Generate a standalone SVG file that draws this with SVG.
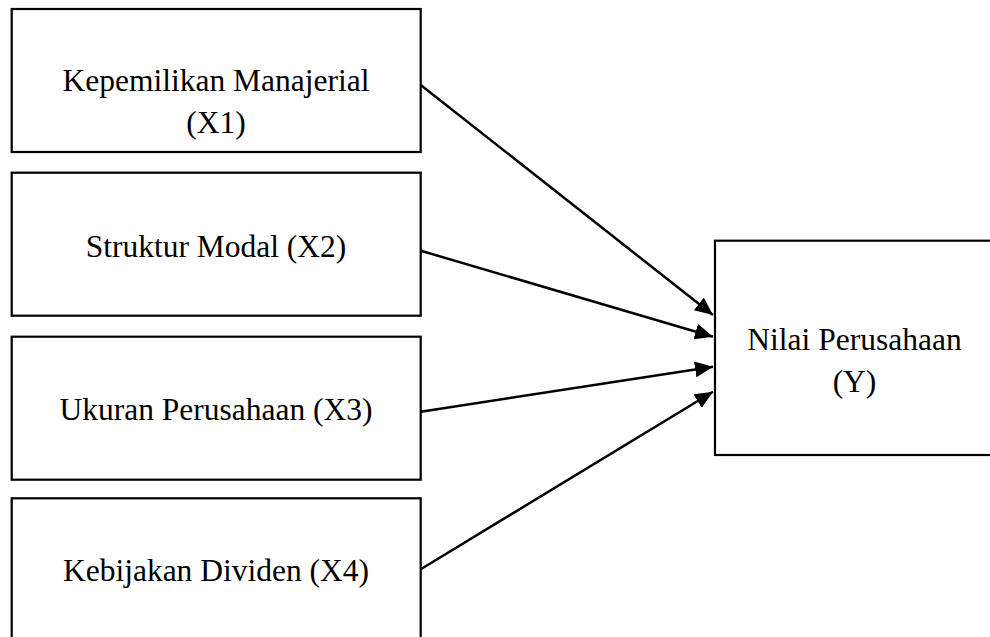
<svg xmlns="http://www.w3.org/2000/svg" width="990" height="637" viewBox="0 0 990 637">
<defs>
<style>
.box{fill:#fff;stroke:#000;stroke-width:2.2}
.lbl{font-family:"Liberation Serif","Times New Roman",serif;font-size:31.5px;fill:#000;text-anchor:middle}
.conn{stroke:#000;stroke-width:2.5;fill:none}
</style>
<marker id="arr" markerUnits="userSpaceOnUse" markerWidth="19" markerHeight="16" refX="18" refY="8" orient="auto">
<path d="M0,0 L18,8 L0,16 Z" fill="#000"/>
</marker>
</defs>
<rect width="990" height="637" fill="#fff"/>
<g id="x1">
<rect class="box" x="11.7" y="9" width="409" height="143"/>
<text class="lbl" x="216" y="90.7">Kepemilikan Manajerial</text>
<text class="lbl" x="216" y="133">(X1)</text>
</g>
<g id="x2">
<rect class="box" x="11.7" y="172.7" width="409" height="143"/>
<text class="lbl" x="216" y="256.7">Struktur Modal (X2)</text>
</g>
<g id="x3">
<rect class="box" x="11.7" y="336.7" width="409" height="143"/>
<text class="lbl" x="216" y="420">Ukuran Perusahaan (X3)</text>
</g>
<g id="x4">
<rect class="box" x="11.7" y="498.3" width="409" height="160"/>
<text class="lbl" x="216" y="580.7">Kebijakan Dividen (X4)</text>
</g>
<g id="y">
<rect class="box" x="715" y="240.7" width="290" height="214.3"/>
<text class="lbl" x="854.5" y="350">Nilai Perusahaan</text>
<text class="lbl" x="854.5" y="391.7">(Y)</text>
</g>
<g id="connectors">
<line class="conn" x1="420.7" y1="85" x2="713" y2="315" marker-end="url(#arr)"/>
<line class="conn" x1="420.7" y1="250.7" x2="713" y2="336.7" marker-end="url(#arr)"/>
<line class="conn" x1="420.7" y1="411.7" x2="713" y2="366.7" marker-end="url(#arr)"/>
<line class="conn" x1="420.7" y1="569.3" x2="713" y2="391.7" marker-end="url(#arr)"/>
</g>
</svg>
